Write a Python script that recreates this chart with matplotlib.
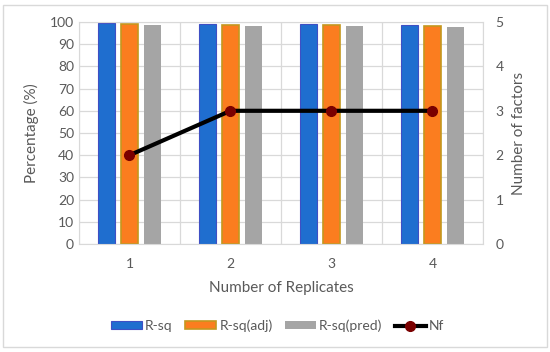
import matplotlib.pyplot as plt
import numpy as np
from matplotlib.patches import Rectangle

plt.rcParams['font.family'] = ['Lato', 'DejaVu Sans']

# data
replicates = ['1', '2', '3', '4']
r_sq = [99.5, 99.1, 99.2, 98.8]
r_sq_adj = [99.2, 98.8, 98.8, 98.4]
r_sq_pred = [98.8, 98.0, 98.4, 97.8]
nf = [2, 3, 3, 3]

txt = '#595959'
grid = '#D9D9D9'

fig = plt.figure(figsize=(5.5, 3.52), dpi=100)
ax = fig.add_axes([0.1436, 0.3068, 0.7345, 0.6307])

x = np.arange(len(replicates))
w = 0.171
step = 0.225
ax.bar(x - step, r_sq, w, color='#1F6ECF', edgecolor='#3F4FC4', linewidth=0.8, label='R-sq', zorder=2)
ax.bar(x, r_sq_adj, w, color='#FB7D1F', edgecolor='#C4971E', linewidth=1.2, label='R-sq(adj)', zorder=2)
ax.bar(x + step, r_sq_pred, w, color='#A5A5A5', label='R-sq(pred)', zorder=2)

ax.set_xlim(-0.5, 3.5)
ax.set_ylim(0, 100)
ax.set_yticks(np.arange(0, 101, 10))
ax.set_xticks(x)
ax.set_xticklabels(replicates)
ax.set_xticks(np.arange(-0.5, 3.6, 1), minor=True)
ax.grid(True, axis='y', color=grid, linewidth=0.9, zorder=0)
ax.grid(True, axis='x', which='minor', color=grid, linewidth=0.9, zorder=0)
ax.tick_params(axis='both', which='both', length=0, colors=txt, labelsize=10)
ax.tick_params(axis='x', pad=10)
for s in ax.spines.values():
    s.set_color(grid)
ax.set_ylabel('Percentage (%)', color=txt, fontsize=11, labelpad=8)
ax.set_xlabel('Number of Replicates', color=txt, fontsize=11, labelpad=8)

ax2 = ax.twinx()
ax2.plot(x, nf, color='black', linewidth=3, marker='o', markersize=7,
         markerfacecolor='#7A0000', markeredgecolor='#7A0000', label='Nf', zorder=3)
ax2.set_ylim(0, 5)
ax2.set_yticks(range(0, 6))
ax2.tick_params(axis='y', length=0, colors=txt, labelsize=10, pad=9)
for s in ax2.spines.values():
    s.set_visible(False)
ax2.set_ylabel('Number of factors', color=txt, fontsize=11, labelpad=6)

h1, l1 = ax.get_legend_handles_labels()
h2, l2 = ax2.get_legend_handles_labels()
fig.legend(h1 + h2, l1 + l2, loc='center', bbox_to_anchor=(0.505, 0.074), ncol=4,
           frameon=False, fontsize=10, labelcolor=txt, handlelength=2.2,
           handleheight=0.5, columnspacing=0.9, handletextpad=0.25)

fig.add_artist(Rectangle((0.006, 0.014), 0.988, 0.972, transform=fig.transFigure,
                         fill=False, edgecolor=grid, linewidth=1))

fig.savefig('out.png', dpi=100)
